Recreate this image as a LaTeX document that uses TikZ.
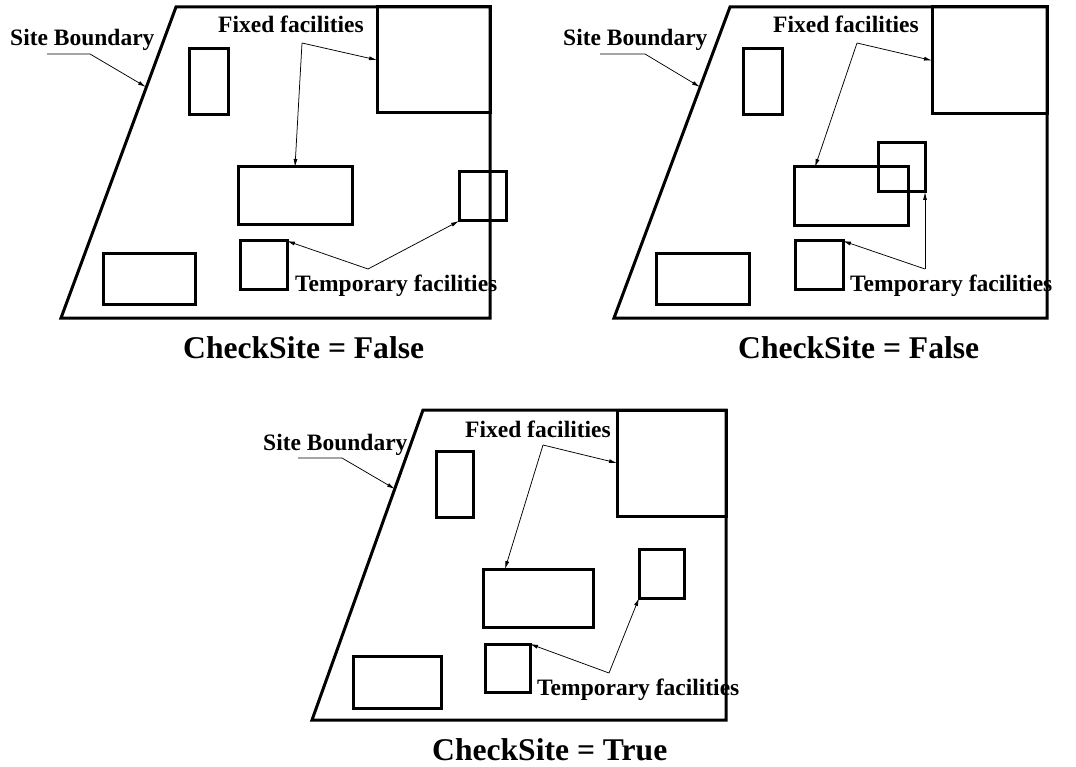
\documentclass[tikz,border=0pt]{standalone}
\usepackage{fontspec}
\setmainfont{Liberation Serif}
\usetikzlibrary{arrows.meta,calc}
\begin{document}
\begin{tikzpicture}[x=1pt,y=-1pt,
  site/.style={line width=3pt, line join=miter},
  fac/.style={draw, line width=3pt, inner sep=0pt, outer sep=0pt, anchor=north west},
  lead/.style={line width=0.75pt, -{Latex[length=8pt,width=4pt]}},
  lbl/.style={inner sep=0pt, anchor=base west, font=\fontsize{23.5}{28}\selectfont\bfseries},
  capt/.style={inner sep=0pt, anchor=base west, font=\fontsize{31.6}{36}\selectfont\bfseries}]
\useasboundingbox (0,0) rectangle (1076,767);

% ---------- Layout 1: temporary facility crosses the site boundary ----------
\draw[site] (176,7) -- (490,7) -- (490,318) -- (61,318) -- cycle;
\node[fac, minimum width=113pt, minimum height=106pt] (p1big) at (377,7) {};
\node[fac, minimum width=39pt, minimum height=66pt] (p1tall) at (189,49) {};
\node[fac, minimum width=114pt, minimum height=58pt] (p1mid) at (238,167) {};
\node[fac, minimum width=92pt, minimum height=51pt] (p1bl) at (103,254) {};
\node[fac, minimum width=47pt, minimum height=49pt] (p1sq) at (240,241) {};
\node[fac, minimum width=47pt, minimum height=49pt] (p1rsq) at (459,172) {};

\node[lbl] (p1sb) at (10,46) {Site Boundary};
\node[lbl] (p1ff) at (218,33) {Fixed facilities};
\node[lbl] (p1tf) at (295,292) {Temporary facilities};
\node[capt] (p1cap) at (183,358) {CheckSite = False};

\coordinate (p1sbA) at (47,54);
\coordinate (p1sbB) at (90,54);
\coordinate (p1sbT) at (146,87);
\coordinate (p1fv) at (302,43);
\coordinate (p1tv) at (368,269);
\draw[lead] (p1sbA) -- (p1sbB) -- (p1sbT);
\draw[lead] (p1fv) -- (p1big.west);
\draw[lead] (p1fv) -- (p1mid.north);
\draw[lead] (p1tv) -- (p1sq.north east);
\draw[lead] (p1tv) -- (p1rsq.south west);

% ---------- Layout 2: temporary facility overlaps a fixed facility ----------
\draw[site] (730,7) -- (1047,7) -- (1047,318) -- (614,318) -- cycle;
\node[fac, minimum width=115pt, minimum height=107pt] (p2big) at (932,7) {};
\node[fac, minimum width=39pt, minimum height=66pt] (p2tall) at (743,49) {};
\node[fac, minimum width=114pt, minimum height=59pt] (p2mid) at (794,167) {};
\node[fac, minimum width=47pt, minimum height=49pt] (p2ov) at (878,143) {};
\node[fac, minimum width=93pt, minimum height=51pt] (p2bl) at (656,254) {};
\node[fac, minimum width=48pt, minimum height=49pt] (p2sq) at (795,241) {};

\node[lbl] (p2sb) at (563,46) {Site Boundary};
\node[lbl] (p2ff) at (773,33) {Fixed facilities};
\node[lbl] (p2tf) at (850,292) {Temporary facilities};
\node[capt] (p2cap) at (738,358) {CheckSite = False};

\coordinate (p2sbA) at (600,54);
\coordinate (p2sbB) at (645,54);
\coordinate (p2sbT) at (700,87);
\coordinate (p2fv) at (857,43);
\coordinate (p2midT) at (815,167);
\coordinate (p2tv) at (925,269);
\draw[lead] (p2sbA) -- (p2sbB) -- (p2sbT);
\draw[lead] (p2fv) -- (p2big.west);
\draw[lead] (p2fv) -- (p2midT);
\draw[lead] (p2tv) -- (p2sq.north east);
\draw[lead] (p2tv) -- (p2ov.south east);

% ---------- Layout 3: all facilities placed correctly ----------
\draw[site] (423,410) -- (726,410) -- (726,720) -- (312,720) -- cycle;
\node[fac, minimum width=109pt, minimum height=106pt] (p3big) at (617,410) {};
\node[fac, minimum width=37pt, minimum height=66pt] (p3tall) at (436,451) {};
\node[fac, minimum width=110pt, minimum height=58pt] (p3mid) at (483,569) {};
\node[fac, minimum width=88pt, minimum height=52pt] (p3bl) at (353,656) {};
\node[fac, minimum width=45pt, minimum height=48pt] (p3sq) at (485,644) {};
\node[fac, minimum width=45pt, minimum height=49pt] (p3rsq) at (639,549) {};

\node[lbl] (p3sb) at (263,450) {Site Boundary};
\node[lbl] (p3ff) at (465,437) {Fixed facilities};
\node[lbl] (p3tf) at (537,695) {Temporary facilities};
\node[capt] (p3cap) at (432,760) {CheckSite = True};

\coordinate (p3sbA) at (298,458);
\coordinate (p3sbB) at (342,458);
\coordinate (p3sbT) at (395,489);
\coordinate (p3fv) at (543,445);
\coordinate (p3midT) at (505,569);
\coordinate (p3tv) at (609,673);
\draw[lead] (p3sbA) -- (p3sbB) -- (p3sbT);
\draw[lead] (p3fv) -- (p3big.west);
\draw[lead] (p3fv) -- (p3midT);
\draw[lead] (p3tv) -- (p3sq.north east);
\draw[lead] (p3tv) -- (p3rsq.south west);
\end{tikzpicture}
\end{document}
